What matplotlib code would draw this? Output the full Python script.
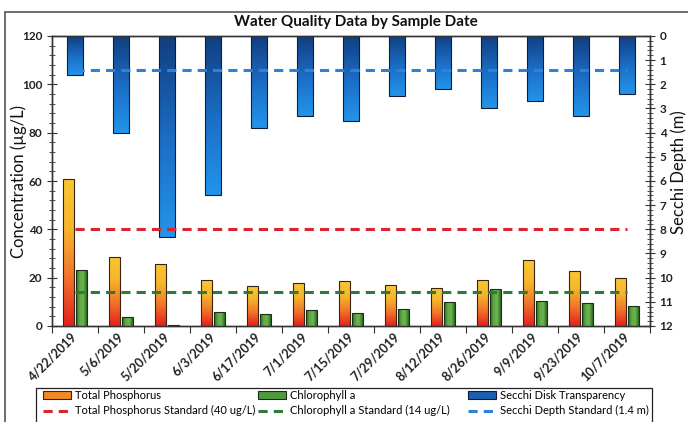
import numpy as np
import matplotlib
matplotlib.use('Agg')
import matplotlib.pyplot as plt
from matplotlib.colors import LinearSegmentedColormap
from matplotlib.patches import Rectangle, Patch
from matplotlib.lines import Line2D
from matplotlib.ticker import MultipleLocator

plt.rcParams['font.family'] = ['Lato', 'DejaVu Sans']

# data
dates = ['4/22/2019', '5/6/2019', '5/20/2019', '6/3/2019', '6/17/2019', '7/1/2019',
         '7/15/2019', '7/29/2019', '8/12/2019', '8/26/2019', '9/9/2019', '9/23/2019',
         '10/7/2019']
total_p = [60.7, 28.7, 25.7, 19.0, 16.7, 17.9, 18.6, 16.9, 15.9, 19.2, 27.2, 22.8, 19.9]
chl_a = [23.2, 3.9, 0.6, 5.7, 4.8, 6.8, 5.2, 7.1, 10.1, 15.4, 10.5, 9.5, 8.1]
secchi = [1.6, 4.0, 8.3, 6.6, 3.8, 3.3, 3.5, 2.5, 2.2, 3.0, 2.7, 3.3, 2.4]
tp_std = 40
chl_std = 14
secchi_std = 1.4

W, H = 688, 422
fig = plt.figure(figsize=(W / 100, H / 100), dpi=100)
ax = fig.add_axes([52 / W, 1 - 326 / H, (650 - 52) / W, (326 - 36) / H])
ax2 = ax.twinx()
ax.set_zorder(ax2.get_zorder() + 1)
ax.patch.set_visible(False)

x = np.arange(len(dates))

cm_tp = LinearSegmentedColormap.from_list('tp', ['#e4211d', '#f0752a', '#f7b52c', '#f9c733'])
cm_chl = LinearSegmentedColormap.from_list('chl', ['#2c6426', '#5faa45', '#6cb54f', '#2c6426'])
cm_sec = LinearSegmentedColormap.from_list('sec', ['#123f80', '#1b6cc4', '#2294ea'])


def gradient_bars(axis, bars, cmap, vertical=True):
    g = np.linspace(0, 1, 64)
    img = g.reshape(-1, 1) if vertical else g.reshape(1, -1)
    for b in bars:
        x0, y0 = b.get_x(), b.get_y()
        im = axis.imshow(img, cmap=cmap, origin='lower', aspect='auto',
                         interpolation='bilinear',
                         extent=[x0, x0 + b.get_width(), y0, y0 + b.get_height()],
                         zorder=b.get_zorder() - 0.5)
        im.set_clip_path(b)


b_tp = ax.bar(x - 0.145, total_p, 0.23, facecolor='none', edgecolor='#3a2410', lw=0.8, zorder=3)
b_chl = ax.bar(x + 0.145, chl_a, 0.23, facecolor='none', edgecolor='#1c2e18', lw=0.8, zorder=3)
gradient_bars(ax, b_tp, cm_tp)
gradient_bars(ax, b_chl, cm_chl, vertical=False)

b_sec = ax2.bar(x, secchi, 0.34, facecolor='none', edgecolor='#0e1e38', lw=0.8, zorder=3)
gradient_bars(ax2, b_sec, cm_sec)

dash = (3.0, 2.0)
ax.plot([x[0], x[-1]], [tp_std, tp_std], color='#d9252b', lw=2.2, dashes=dash, zorder=5)
ax.plot([x[0], x[-1]], [chl_std, chl_std], color='#2e7a3a', lw=2.2, dashes=dash, zorder=5)
ax2.plot([x[0], x[-1]], [secchi_std, secchi_std], color='#2f80d8', lw=2.2, dashes=dash, zorder=5)

ax.set_xlim(-0.5, len(dates) - 0.5)
ax.set_ylim(0, 120)
ax2.set_ylim(12, 0)

# x axis: ticks between categories, labels at centers
ax.set_xticks(np.arange(-0.5, len(dates), 1))
ax.set_xticks(x, minor=True)
ax.set_xticklabels(dates, minor=True, rotation=45, ha='right', va='center',
                   rotation_mode='anchor', fontweight='bold', fontsize=9, color='#222222')
ax.tick_params(axis='x', which='major', length=5, direction='out', labelbottom=False, color='#333333')
ax.tick_params(axis='x', which='minor', length=0, pad=6)

ax.set_yticks(np.arange(0, 121, 20))
ax.yaxis.set_minor_locator(MultipleLocator(4))
ax.tick_params(axis='y', which='major', direction='inout', length=7, labelsize=8.5, color='#333333')
ax.tick_params(axis='y', which='minor', direction='inout', length=4, color='#333333')
for t in ax.get_yticklabels():
    t.set_fontweight('bold')
    t.set_color('#222222')

ax2.set_yticks(np.arange(0, 13, 1))
ax2.yaxis.set_minor_locator(MultipleLocator(0.2))
ax2.tick_params(axis='y', which='major', direction='inout', length=7, labelsize=8.5, color='#333333')
ax2.tick_params(axis='y', which='minor', direction='inout', length=4, color='#333333')
for t in ax2.get_yticklabels():
    t.set_fontweight('bold')
    t.set_color('#222222')

for a in (ax, ax2):
    for s in a.spines.values():
        s.set_color('#333333')
        s.set_linewidth(1.0)

fig.text(356 / W, 1 - 22 / H, 'Water Quality Data by Sample Date', ha='center', va='center',
         fontsize=11, fontweight='bold', color='#111111')
fig.text(19 / W, 1 - 181 / H, 'Concentration (µg/L)', rotation=90, ha='center', va='center',
         fontsize=12, color='#111111')
fig.text(687 / W, 1 - 172 / H, 'Secchi Depth (m)', rotation=90, ha='right', va='center',
         fontsize=12, color='#111111')

# legend, three columns in one box
h_tp = Patch(facecolor='#f08a26', edgecolor='#3a2410', lw=0.8)
h_chl = Patch(facecolor='#4f9a3c', edgecolor='#1c2e18', lw=0.8)
h_sec = Patch(facecolor='#1a5fb0', edgecolor='#0e1e38', lw=0.8)
l_tp = Line2D([], [], color='#d9252b', lw=2.2, dashes=dash)
l_chl = Line2D([], [], color='#2e7a3a', lw=2.2, dashes=dash)
l_sec = Line2D([], [], color='#2f80d8', lw=2.2, dashes=dash)
cols = [([h_tp, l_tp], ['Total Phosphorus', 'Total Phosphorus Standard (40 ug/L)'], 43),
        ([h_chl, l_chl], ['Chlorophyll a', 'Chlorophyll a Standard (14 ug/L)'], 258),
        ([h_sec, l_sec], ['Secchi Disk Transparency', 'Secchi Depth Standard (1.4 m)'], 468)]
for hs, ls, xp in cols:
    fig.legend(hs, ls, loc='upper left', bbox_to_anchor=(xp / W, 1 - 390 / H),
               frameon=False, fontsize=8, handlelength=2.5, handletextpad=0.4,
               borderpad=0, borderaxespad=0, labelspacing=0.4)

fig.add_artist(Rectangle((36 / W, -0.05), (652 - 36) / W, (1 - 388 / H) + 0.05,
                         transform=fig.transFigure, fill=False, ec='#222222', lw=0.9))
fig.add_artist(Rectangle((5 / W, -0.1), 1.0, (1 - 12 / H) + 0.1,
                         transform=fig.transFigure, fill=False, ec='#555555', lw=1.2))

fig.savefig('out.png', dpi=100)
